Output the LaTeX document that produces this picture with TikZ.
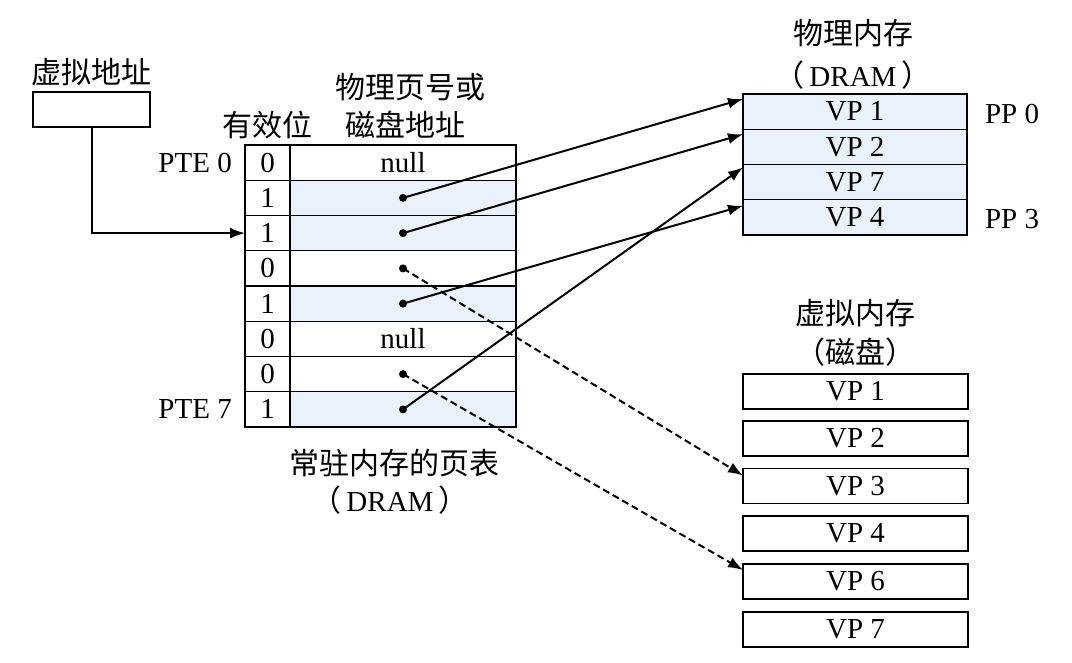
\documentclass[tikz,border=0pt]{standalone}
\usepackage{fontspec}
\setmainfont{Liberation Serif}
\newfontfamily\cjk{Noto Sans CJK SC}
\usetikzlibrary{arrows.meta,calc}
\definecolor{cellblue}{RGB}{233,242,251}
\newcommand{\lat}{\fontsize{29}{31}\selectfont}
\newcommand{\zh}{\cjk\fontsize{30}{32}\selectfont}
\begin{document}
\begin{tikzpicture}[x=1pt,y=-1pt,
  cell/.style={draw, line width=1.4pt, inner sep=0pt, outer sep=0pt, minimum height=35.25pt, font=\lat},
  vcell/.style={cell, minimum width=45pt},
  acell/.style={cell, minimum width=226pt},
  pmrow/.style={cell, fill=cellblue, minimum width=224pt},
  disk/.style={cell, minimum width=225pt, minimum height=35pt},
  lbl/.style={inner sep=0pt, font=\lat},
  zlbl/.style={inner sep=0pt, font=\zh},
  arr/.style={line width=2pt, -{Latex[length=15pt,width=11pt]}},
  darr/.style={arr, dash pattern=on 7pt off 4pt},
  dot/.style={fill, circle, inner sep=0pt, minimum size=8pt}
]
\useasboundingbox (0,0) rectangle (1072,663);

% virtual address
\node[zlbl] (valbl) at (91,72) {虚拟地址};
\node[cell, minimum width=117pt, minimum height=35pt] (va) at (91.5,109.5) {};

% headers
\node[zlbl] (hvalid) at (267,125) {有效位};
\node[zlbl] (hppn1) at (410,87) {物理页号或};
\node[zlbl] (hppn2) at (405,125) {磁盘地址};

% page table
\foreach \i/\v in {0/0,1/1,2/1,3/0,4/1,5/0,6/0,7/1} {
  \node[vcell] (v\i) at (267.5,{162.6+35.25*\i}) {\v};
}
\node[acell] (a0) at (403,162.6) {null};
\node[acell, fill=cellblue] (a1) at (403,197.9) {};
\node[acell, fill=cellblue] (a2) at (403,233.1) {};
\node[acell] (a3) at (403,268.4) {};
\node[acell, fill=cellblue] (a4) at (403,303.6) {};
\node[acell] (a5) at (403,338.9) {null};
\node[acell] (a6) at (403,374.1) {};
\node[acell, fill=cellblue] (a7) at (403,409.4) {};

\node[lbl, anchor=east] (pte0) at ($(v0.west)+(-13,0)$) {PTE 0};
\node[lbl, anchor=east] (pte7) at ($(v7.west)+(-13,0)$) {PTE 7};

\node[zlbl] (ptl1) at (394,463) {常驻内存的页表};
\node[lbl] (ptl2) at (390,500) {{\zh（}\,DRAM\,{\zh）}};

% physical memory
\node[zlbl] (pml1) at (853,33) {物理内存};
\node[lbl] (pml2) at (853,75) {{\zh（}\,DRAM\,{\zh）}};
\node[pmrow] (pm0) at (855,111.6) {VP 1};
\node[pmrow] (pm1) at (855,146.9) {VP 2};
\node[pmrow] (pm2) at (855,182.1) {VP 7};
\node[pmrow] (pm3) at (855,217.4) {VP 4};
\node[lbl] (pp0) at (1012,114) {PP 0};
\node[lbl] (pp3) at (1012,219) {PP 3};

% disk
\node[zlbl] (dl1) at (855,313) {虚拟内存};
\node[zlbl] (dl2) at (855,352) {（磁盘）};
\node[disk] (d1) at (855.5,391.5) {VP 1};
\node[disk] (d2) at (855.5,438.5) {VP 2};
\node[disk] (d3) at (855.5,486) {VP 3};
\node[disk] (d4) at (855.5,533.5) {VP 4};
\node[disk] (d6) at (855.5,581.5) {VP 6};
\node[disk] (d7) at (855.5,629.5) {VP 7};

% virtual address arrow
\coordinate (vaout) at (va.south);
\draw[arr] (vaout) |- (v2.west);

% dots
\foreach \i in {1,2,3,4,6,7} { \node[dot] (dot\i) at (a\i.center) {}; }

% arrows to physical memory
\draw[arr] (a1.center) -- ($(pm0.north west)+(0,5)$);
\draw[arr] (a2.center) -- ($(pm1.north west)+(0,5)$);
\draw[arr] (a4.center) -- ($(pm3.north west)+(0,6)$);
\draw[arr] (a7.center) -- ($(pm2.north west)+(0,3)$);
% dashed to disk
\draw[darr] (a3.center) -- ($(d3.north west)+(0,7)$);
\draw[darr] (a6.center) -- ($(d6.north west)+(0,6)$);
\end{tikzpicture}
\end{document}
